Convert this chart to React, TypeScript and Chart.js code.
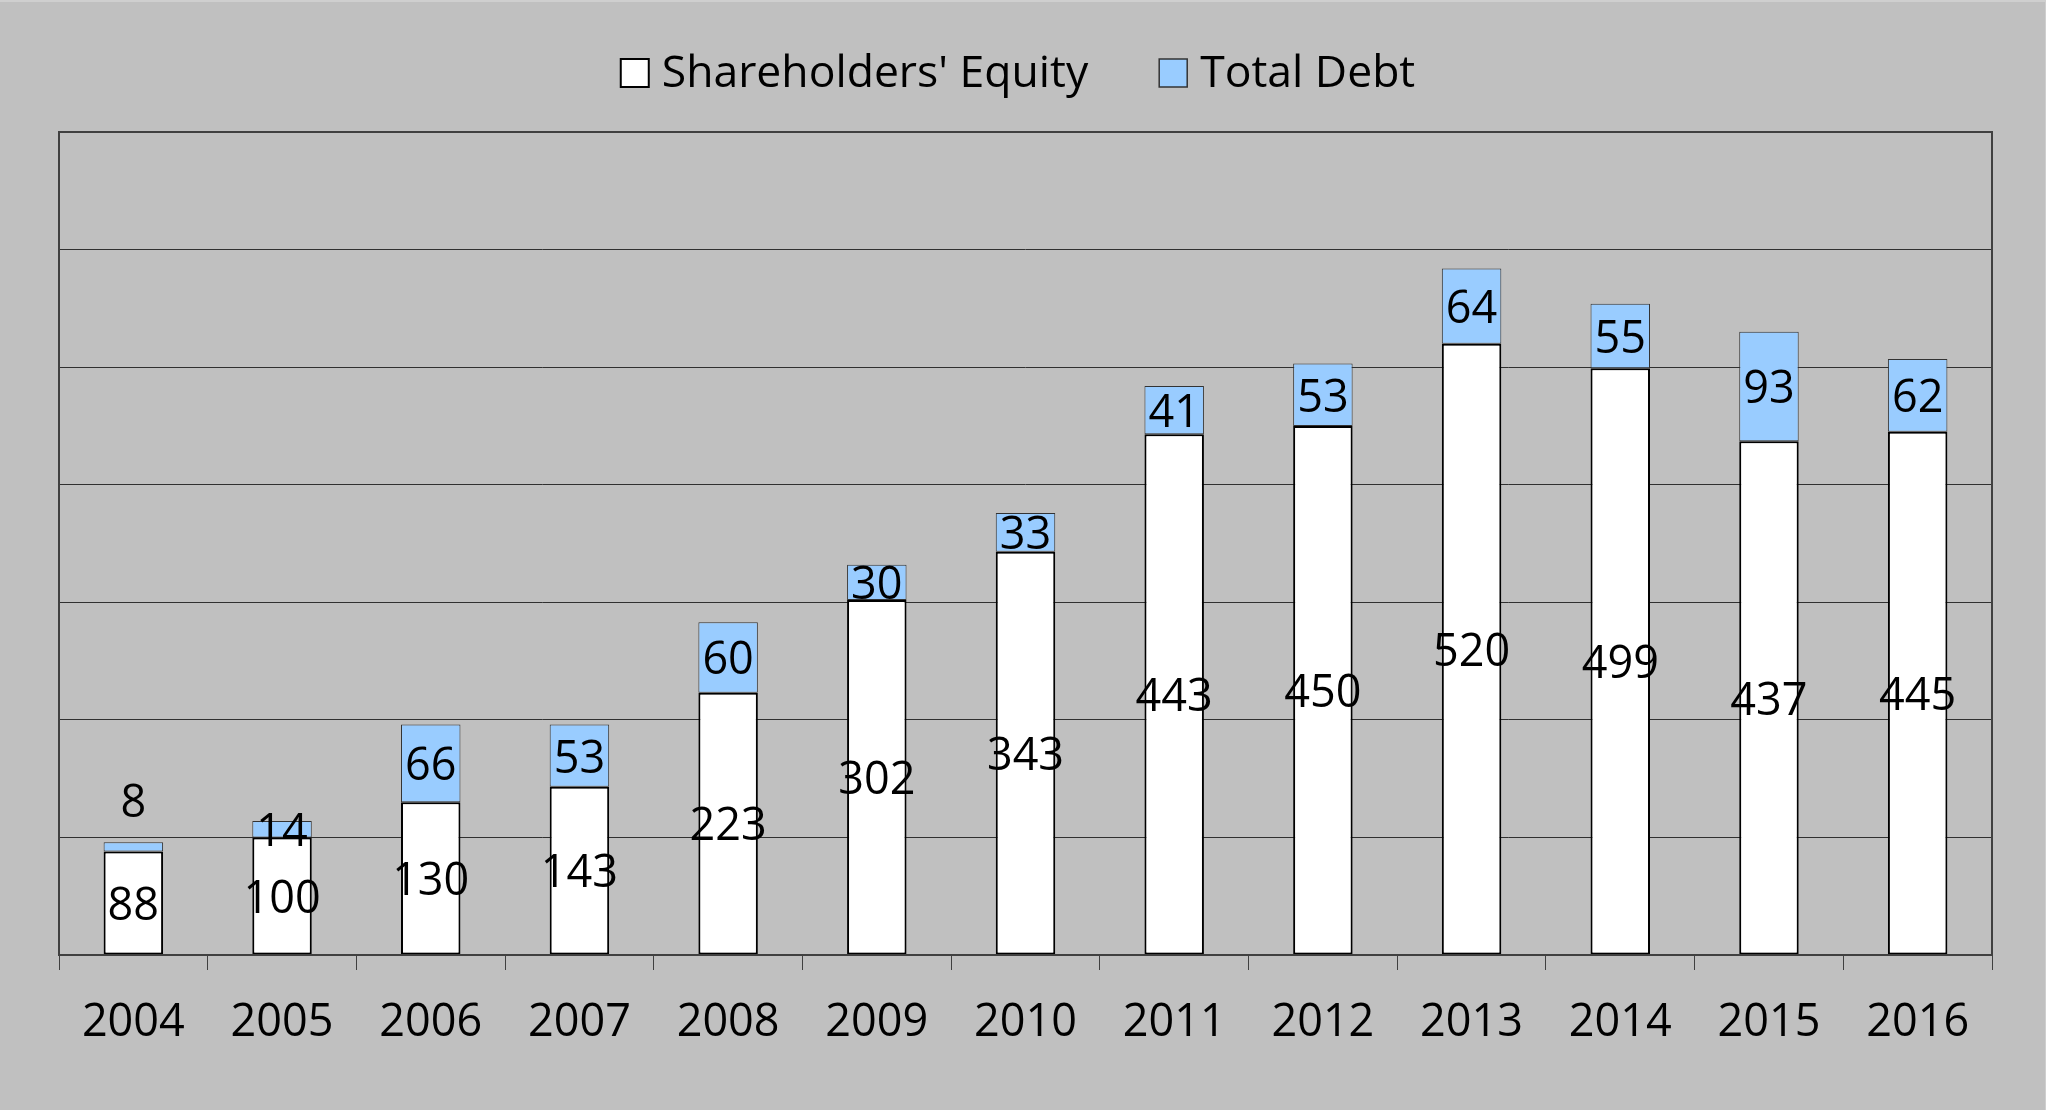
import React, { useEffect, useRef } from "react";
import { Chart, registerables } from "chart.js";

Chart.register(...registerables);

const categories = ["2004", "2005", "2006", "2007", "2008", "2009", "2010", "2011", "2012", "2013", "2014", "2015", "2016"];
const equityValues = [88, 100, 130, 143, 223, 302, 343, 443, 450, 520, 499, 437, 445];
const debtValues = [8, 14, 66, 53, 60, 30, 33, 41, 53, 64, 55, 93, 62];
const seriesNames = ["Shareholders' Equity", "Total Debt"];
const yMin = 0;
const yMax = 700;
const yStep = 100;

const FONT = "'Open Sans', sans-serif";
const BG = "#C0C0C0";
const DEBT_COLOR = "#99CCFF";

const framePlugin = {
  id: "frame",
  afterDraw(chart: any) {
    const { ctx, chartArea } = chart;
    ctx.save();
    ctx.strokeStyle = "#404040";
    ctx.lineWidth = 2;
    ctx.strokeRect(chartArea.left, chartArea.top, chartArea.right - chartArea.left, chartArea.bottom - chartArea.top);
    ctx.restore();
  },
};

const labelPlugin = {
  id: "valueLabels",
  afterDatasetsDraw(chart: any) {
    const { ctx } = chart;
    ctx.save();
    ctx.font = `45px ${FONT}`;
    ctx.fillStyle = "#000";
    ctx.textAlign = "center";
    ctx.textBaseline = "middle";
    chart.data.datasets.forEach((ds: any, di: number) => {
      const meta = chart.getDatasetMeta(di);
      meta.data.forEach((el: any, i: number) => {
        const v = ds.data[i];
        const top = Math.min(el.y, el.base);
        const bot = Math.max(el.y, el.base);
        let y = (top + bot) / 2;
        if (di === 1 && v < 10) y = top - 42;
        ctx.fillText(String(v), el.x, y + 4);
      });
    });
    ctx.restore();
  },
};

const legendPlugin = {
  id: "customLegend",
  afterDraw(chart: any) {
    const { ctx } = chart;
    ctx.save();
    ctx.font = `44.5px ${FONT}`;
    ctx.textBaseline = "alphabetic";
    ctx.textAlign = "left";
    const boxW = 28;
    const boxH = 28;
    const gap = 13;
    const spacing = 71;
    const widths = seriesNames.map((n) => ctx.measureText(n).width);
    const total = widths.reduce((a, w) => a + boxW + gap + w, 0) + spacing * (seriesNames.length - 1);
    let x = 1018 - total / 2;
    const fills = ["#FFFFFF", DEBT_COLOR];
    const strokes = ["#000000", "#333333"];
    const lw = [2, 1.5];
    seriesNames.forEach((n, i) => {
      ctx.fillStyle = fills[i];
      ctx.fillRect(x, 57, boxW, boxH);
      ctx.strokeStyle = strokes[i];
      ctx.lineWidth = lw[i];
      ctx.strokeRect(x, 57, boxW, boxH);
      ctx.fillStyle = "#000";
      ctx.fillText(n, x + boxW + gap, 85);
      x += boxW + gap + widths[i] + spacing;
    });
    ctx.restore();
  },
};

export default function App() {
  const ref = useRef<HTMLCanvasElement | null>(null);
  useEffect(() => {
    document.body.style.margin = "0";
    if (!ref.current) return;
    const chart = new Chart(ref.current, {
      type: "bar",
      data: {
        labels: categories,
        datasets: [
          {
            label: seriesNames[0],
            data: equityValues,
            backgroundColor: "#FFFFFF",
            borderColor: "#000000",
            borderWidth: 2,
            borderSkipped: false,
            barPercentage: 0.4,
            categoryPercentage: 1,
          },
          {
            label: seriesNames[1],
            data: debtValues,
            backgroundColor: DEBT_COLOR,
            borderColor: "#333333",
            borderWidth: 1,
            borderSkipped: false,
            barPercentage: 0.4,
            categoryPercentage: 1,
          },
        ],
      },
      options: {
        responsive: false,
        animation: false,
        layout: { padding: { left: 59, right: 53, top: 130, bottom: 0 } },
        plugins: {
          legend: { display: false },
          tooltip: { enabled: false },
        },
        scales: {
          x: {
            stacked: true,
            afterFit: (scale: any) => {
              scale.height = 155;
            },
            grid: {
              offset: true,
              drawOnChartArea: false,
              drawTicks: true,
              tickLength: 15,
              color: "#404040",
              lineWidth: 1,
            },
            border: { display: false },
            ticks: {
              color: "#000",
              font: { family: FONT, size: 45 },
              padding: 26,
              maxRotation: 0,
            },
          },
          y: {
            stacked: true,
            min: yMin,
            max: yMax,
            afterFit: (scale: any) => {
              scale.width = 0;
            },
            grid: { color: "#303030", lineWidth: 1, drawTicks: false },
            border: { display: false },
            ticks: { display: false, stepSize: yStep },
          },
        },
      },
      plugins: [labelPlugin, framePlugin, legendPlugin],
    });
    return () => chart.destroy();
  }, []);
  return (
    <div
      style={{
        position: "fixed",
        left: 0,
        top: 0,
        width: 2046,
        height: 1110,
        background: BG,
        boxSizing: "border-box",
        borderTop: "2px solid #CFCFCF",
        borderRight: "1px solid #CFCFCF",
      }}
    >
      <canvas ref={ref} width={2045} height={1108} style={{ display: "block" }} />
    </div>
  );
}
